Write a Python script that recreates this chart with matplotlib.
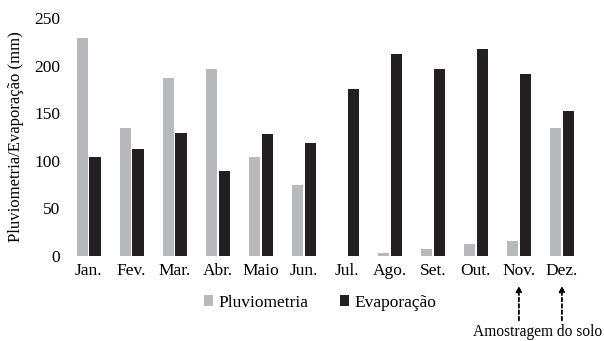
import numpy as np
import matplotlib.pyplot as plt

plt.rcParams["font.family"] = ["Liberation Serif", "DejaVu Serif"]

meses = ["Jan.", "Fev.", "Mar.", "Abr.", "Maio", "Jun.",
         "Jul.", "Ago.", "Set.", "Out.", "Nov.", "Dez."]
pluviometria = [229, 135, 187, 196, 104, 75, 0, 3, 7, 13, 16, 135]
evaporacao = [104, 112, 129, 89, 128, 119, 176, 212, 196, 217, 191, 152]
meses_amostragem = ["Nov.", "Dez."]

x = np.arange(len(meses))
w = 0.26
fs = 12.5

fig = plt.figure(figsize=(6.04, 3.41), dpi=100)
ax = fig.add_axes([0.111, 0.249, 0.855, 0.698])

ax.bar(x - 0.15, pluviometria, w, color="#b8b9bd", label="Pluviometria")
ax.bar(x + 0.15, evaporacao, w, color="#231f20", label="Evaporação")

ax.set_xlim(-0.5, len(meses) - 0.5)
ax.set_ylim(0, 250)
ax.set_yticks(range(0, 251, 50))
ax.set_xticks(x)
ax.set_xticklabels(meses)
ax.tick_params(length=0, labelsize=fs, pad=5)
for s in ax.spines.values():
    s.set_visible(False)
ax.set_ylabel("Pluviometria/Evaporação (mm)", fontsize=12, labelpad=7)

ax.legend(loc="center", bbox_to_anchor=(0.49, -0.195), ncol=2,
          frameon=False, fontsize=fs, handlelength=0.55, handleheight=0.55,
          columnspacing=1.8, handletextpad=0.3, borderpad=0)

# dashed arrows pointing to the soil sampling months
for m in meses_amostragem:
    i = meses.index(m)
    ax.annotate("", xy=(i, -0.125), xycoords=("data", "axes fraction"),
                xytext=(i, -0.27), textcoords=("data", "axes fraction"),
                arrowprops=dict(arrowstyle="-|>", linestyle=(0, (2, 1.5)),
                                color="black", lw=1.3, mutation_scale=8,
                                shrinkA=0, shrinkB=0))
centro = np.mean([meses.index(m) for m in meses_amostragem]) - 0.07
ax.text(centro, -0.32, "Amostragem do solo", transform=ax.get_xaxis_transform(),
        ha="center", va="center", fontsize=11.2)

fig.savefig("out.png", dpi=100)
